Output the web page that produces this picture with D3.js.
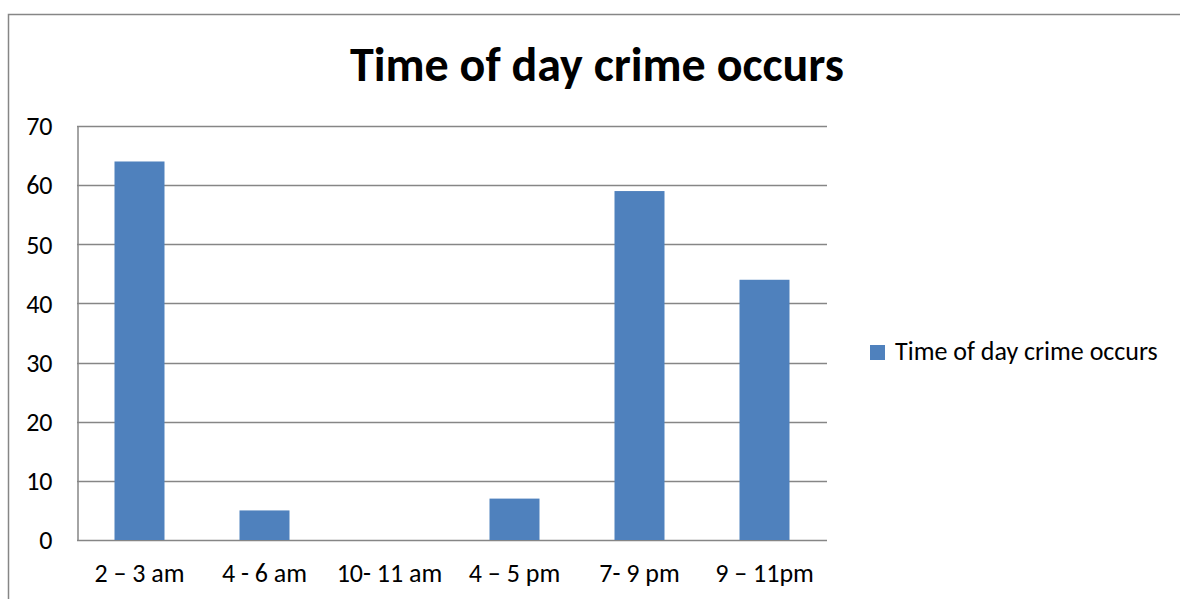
<!DOCTYPE html>
<html>
<head>
<meta charset="utf-8">
<script src="https://cdn.jsdelivr.net/npm/d3@7"></script>
<style>
  html, body { margin: 0; padding: 0; background: #fff; }
  svg { display: block; font-family: Carlito, Lato, "Open Sans", sans-serif; }
</style>
</head>
<body>
<div id="chart"></div>
<script>
// data
const categories = ["2 \u2013 3 am", "4 - 6 am", "10- 11 am", "4 \u2013 5 pm", "7- 9 pm", "9 \u2013 11pm"];
const values = [64, 5, 0, 7, 59, 44];
const yTicks = [0, 10, 20, 30, 40, 50, 60, 70];
const seriesName = "Time of day crime occurs";
const chartTitle = "Time of day crime occurs";

const W = 1180, H = 599;
const plot = { left: 77, right: 827, top: 126, bottom: 540 };
const barColor = "#4f81bd";
const lineColor = "#868686";
const labelSize = 26;

let svg = d3.select("#chart")
    .append("svg")
    .attr("width", W)
    .attr("height", H);

// chart area border (only left + top visible, rest runs off the image)
svg.append("rect")
    .attr("x", 8.5)
    .attr("y", 14.5)
    .attr("width", W + 20)
    .attr("height", H + 20)
    .attr("fill", "none")
    .attr("stroke", lineColor)
    .attr("stroke-width", 1.5);

let x = d3.scaleBand()
    .domain(categories)
    .range([plot.left, plot.right])
    .paddingInner(0.6)
    .paddingOuter(0.3);

let y = d3.scaleLinear()
    .domain([0, 70])
    .range([plot.bottom, plot.top]);

// gridlines
svg.append("g")
    .selectAll("line")
    .data(yTicks)
    .enter()
    .append("line")
    .attr("x1", plot.left)
    .attr("x2", plot.right)
    .attr("y1", d => Math.round(y(d)) + 0.5)
    .attr("y2", d => Math.round(y(d)) + 0.5)
    .style("stroke", lineColor)
    .style("stroke-width", 1.5);

// y axis
let yAxis = svg.append("g")
    .attr("transform", "translate(" + (plot.left + 0.5) + ",0.5)")
    .call(d3.axisLeft(y).tickValues(yTicks).tickSize(0).tickPadding(25))
    .attr("font-family", null)
    .attr("font-size", labelSize);
yAxis.select(".domain").attr("stroke", lineColor).attr("stroke-width", 1.5);
yAxis.selectAll("text").attr("fill", "#000");

// x axis
let xAxis = svg.append("g")
    .attr("transform", "translate(0," + (plot.bottom + 0.5) + ")")
    .call(d3.axisBottom(x).tickSize(0).tickPadding(23))
    .attr("font-family", null)
    .attr("font-size", labelSize);
xAxis.select(".domain").remove();
xAxis.selectAll("text").attr("fill", "#000");

// bars
svg.append("g")
    .selectAll("rect")
    .data(values)
    .enter()
    .append("rect")
    .attr("x", (d, i) => x(categories[i]))
    .attr("y", d => y(d))
    .attr("width", x.bandwidth())
    .attr("height", d => y(0) - y(d))
    .attr("fill", barColor);

// title
svg.append("text")
    .attr("x", 597)
    .attr("y", 81)
    .attr("text-anchor", "middle")
    .attr("font-size", 48)
    .attr("font-weight", "bold")
    .text(chartTitle);

// legend
let legend = svg.append("g")
    .attr("transform", "translate(870,345)");
legend.append("rect")
    .attr("width", 15)
    .attr("height", 15)
    .attr("fill", barColor);
legend.append("text")
    .attr("x", 25)
    .attr("y", 15)
    .attr("font-size", labelSize)
    .text(seriesName);
</script>
</body>
</html>
